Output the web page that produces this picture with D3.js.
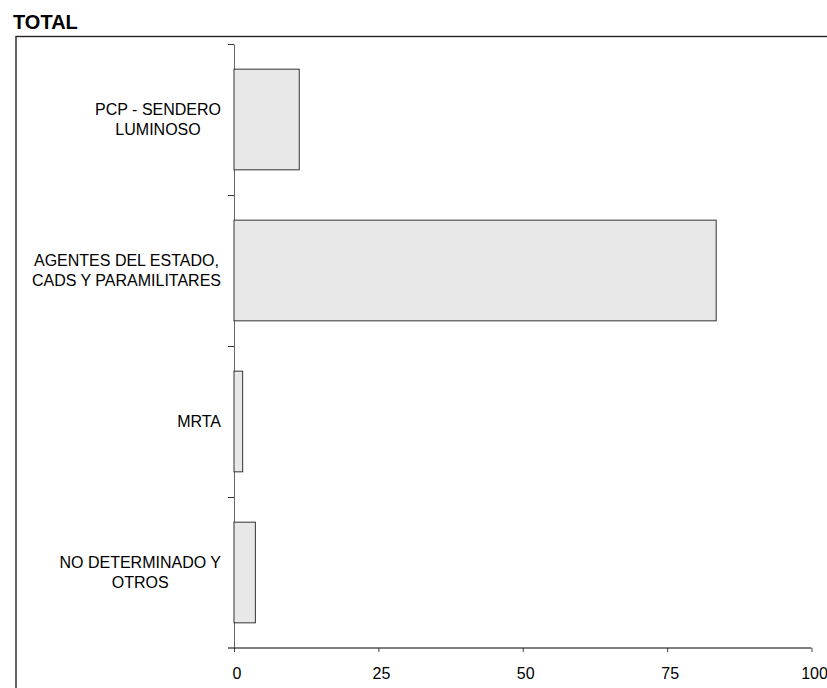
<!DOCTYPE html>
<html>
<head>
<meta charset="utf-8">
<script src="https://cdn.jsdelivr.net/npm/d3@7"></script>
<style>
  html, body { margin: 0; padding: 0; background: #fff; }
  svg { display: block; font-family: "Liberation Sans", Arial, sans-serif; }
</style>
</head>
<body>
<svg id="chart" width="827" height="688"></svg>
<script>
const title = "TOTAL";
const categories = [
  ["PCP - SENDERO", "LUMINOSO"],
  ["AGENTES DEL ESTADO,", "CADS Y PARAMILITARES"],
  ["MRTA"],
  ["NO DETERMINADO Y", "OTROS"]
];
const values = [11.3, 83.5, 1.5, 3.7];
const xTicks = [0, 25, 50, 75, 100];

(function () {
const svg = d3.select("#chart");
const mLeft = 234, mRight = 811.5, mTop = 44, mBottom = 648;

// Title
svg.append("text")
  .attr("x", 13).attr("y", 29)
  .attr("font-size", 20).attr("font-weight", "bold")
  .attr("fill", "#000")
  .text(title);

// Frame
svg.append("rect")
  .attr("x", 16).attr("y", 36.5)
  .attr("width", 900).attr("height", 800)
  .attr("fill", "none").attr("stroke", "#222").attr("stroke-width", 1.4);

const x = d3.scaleLinear().domain([0, 100]).range([mLeft, mRight]);
const idx = categories.map((_, i) => i);
const y = d3.scaleBand().domain(idx).range([mTop, mBottom])
  .paddingInner(1 / 3).paddingOuter(1 / 6);
const yEdge = d3.scaleLinear().domain([0, categories.length]).range([mTop, mBottom]);

// Y axis (band boundaries)
const yAxis = svg.append("g")
  .attr("transform", `translate(${mLeft},0)`)
  .call(d3.axisLeft(yEdge).tickValues(d3.range(0, categories.length)).tickFormat("").tickSize(6).tickSizeOuter(0));
yAxis.select(".domain").attr("stroke", "#666");
yAxis.selectAll(".tick line").attr("stroke", "#333");

// Bars
svg.append("g").selectAll("rect")
  .data(values)
  .join("rect")
  .attr("x", x(0))
  .attr("y", (d, i) => y(i))
  .attr("width", d => x(d) - x(0))
  .attr("height", y.bandwidth())
  .attr("fill", "#e8e8e8")
  .attr("stroke", "#333")
  .attr("stroke-width", 1);

// X axis
const xAxis = svg.append("g")
  .attr("transform", `translate(0,${mBottom})`)
  .call(d3.axisBottom(x).tickValues(xTicks).tickSize(4).tickSizeOuter(0).tickPadding(15.5));
xAxis.select(".domain").remove();
xAxis.selectAll(".tick line").attr("stroke", "#444");
xAxis.selectAll(".tick text")
  .attr("font-size", 16)
  .attr("dx", 2.5)
  .attr("font-family", "Liberation Sans, Arial, sans-serif")
  .attr("fill", "#000");
xAxis.append("line")
  .attr("x1", mLeft - 6).attr("x2", mRight)
  .attr("y1", 0).attr("y2", 0)
  .attr("stroke", "#000").attr("stroke-width", 1);

// Category labels
const labelRight = 221;
const lineH = 20;
categories.forEach((lines, i) => {
  const cy = yEdge(i + 0.5);
  const g = svg.append("g");
  const texts = lines.map((s, k) => g.append("text")
    .attr("font-size", 16)
    .attr("fill", "#000")
    .attr("text-anchor", "middle")
    .attr("dominant-baseline", "central")
    .attr("y", cy + (k - (lines.length - 1) / 2) * lineH)
    .text(s));
  const maxW = d3.max(texts, t => t.node().getComputedTextLength());
  texts.forEach(t => t.attr("x", labelRight - maxW / 2));
});
})();
</script>
</body>
</html>
